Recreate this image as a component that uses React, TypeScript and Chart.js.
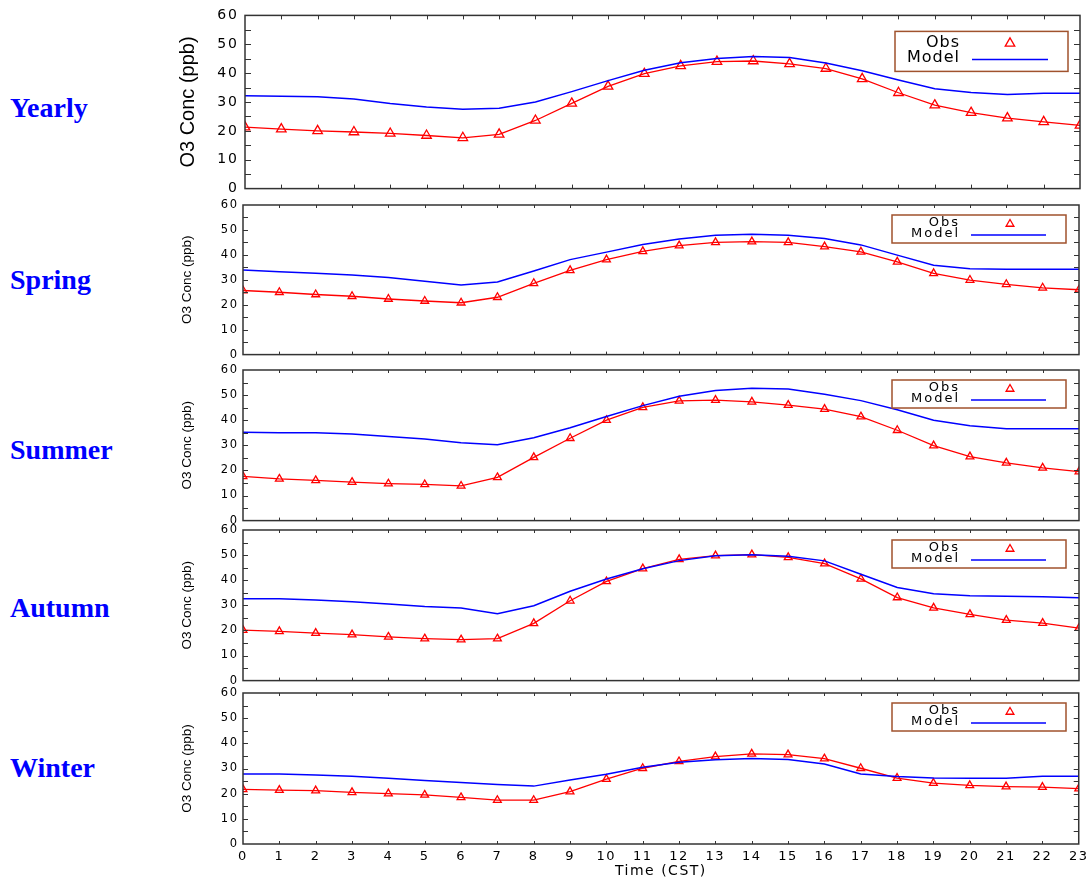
import React, { useEffect, useRef } from 'react';
import { Chart, registerables } from 'chart.js';

Chart.register(...registerables);

// ---------------- data ----------------
const hours = [0, 1, 2, 3, 4, 5, 6, 7, 8, 9, 10, 11, 12, 13, 14, 15, 16, 17, 18, 19, 20, 21, 22, 23];
const panelNames = ['Yearly', 'Spring', 'Summer', 'Autumn', 'Winter'];
const legendLabels = ['Obs', 'Model'];
const yAxisTitle = 'O3 Conc (ppb)';
const xAxisTitle = 'Time (CST)';

const yearlyObs = [21.3, 20.6, 20.0, 19.6, 19.1, 18.4, 17.6, 18.8, 23.6, 29.5, 35.4, 39.8, 42.5, 44.0, 44.2, 43.2, 41.6, 38.0, 33.2, 28.9, 26.3, 24.4, 23.1, 21.9];
const yearlyModel = [32.2, 32.0, 31.8, 31.0, 29.5, 28.3, 27.5, 27.8, 30.0, 33.6, 37.4, 41.0, 43.6, 45.1, 45.8, 45.4, 43.5, 40.8, 37.6, 34.6, 33.3, 32.6, 33.0, 33.0];

const springObs = [25.7, 25.0, 24.1, 23.4, 22.3, 21.5, 20.8, 23.0, 28.6, 33.8, 38.1, 41.4, 43.7, 45.0, 45.3, 45.0, 43.3, 41.2, 37.2, 32.6, 29.9, 28.2, 26.8, 26.0];
const springModel = [33.9, 33.2, 32.6, 31.9, 30.9, 29.4, 27.9, 29.1, 33.5, 38.1, 41.1, 44.2, 46.4, 47.9, 48.3, 47.9, 46.6, 44.0, 39.9, 35.8, 34.4, 34.2, 34.2, 34.2];

const summerObs = [17.6, 16.6, 16.0, 15.3, 14.7, 14.4, 13.8, 17.2, 25.2, 32.8, 40.0, 45.1, 47.7, 48.0, 47.3, 46.0, 44.4, 41.4, 36.0, 29.9, 25.5, 23.0, 21.0, 19.5];
const summerModel = [35.2, 35.0, 35.0, 34.5, 33.5, 32.5, 31.0, 30.2, 33.0, 37.0, 41.5, 45.8, 49.5, 51.8, 52.7, 52.4, 50.3, 47.8, 44.2, 40.0, 37.8, 36.6, 36.6, 36.6];

const autumnObs = [20.1, 19.6, 18.9, 18.3, 17.4, 16.7, 16.3, 16.7, 22.8, 31.8, 39.5, 44.6, 48.3, 49.8, 50.2, 49.1, 46.6, 40.5, 33.1, 29.0, 26.4, 24.1, 22.9, 20.9];
const autumnModel = [32.6, 32.6, 32.1, 31.4, 30.5, 29.5, 28.9, 26.6, 29.8, 35.6, 40.5, 44.6, 47.8, 49.7, 50.1, 49.5, 47.7, 42.4, 37.1, 34.6, 33.8, 33.6, 33.4, 33.0];

const winterObs = [21.7, 21.4, 21.2, 20.5, 20.0, 19.5, 18.5, 17.4, 17.4, 20.8, 25.8, 30.1, 32.8, 34.7, 35.8, 35.5, 33.9, 30.1, 26.2, 24.2, 23.3, 22.8, 22.6, 22.0];
const winterModel = [27.8, 27.8, 27.4, 26.9, 26.1, 25.2, 24.4, 23.6, 23.0, 25.4, 27.7, 30.5, 32.5, 33.5, 34.0, 33.6, 31.8, 27.8, 26.8, 26.2, 26.1, 26.1, 26.9, 26.9];

const obsSeries = [yearlyObs, springObs, summerObs, autumnObs, winterObs];
const modelSeries = [yearlyModel, springModel, summerModel, autumnModel, winterModel];

// ---------------- layout ----------------
type Layout = { top: number; bottom: number; left: number; right: number; big: boolean; last: boolean; nameTop: number };
const layouts: Layout[] = [
  { top: 13, bottom: 193, left: 245, right: 1080, big: true, last: false, nameTop: 94 },
  { top: 205, bottom: 356, left: 243, right: 1079, big: false, last: false, nameTop: 266 },
  { top: 370, bottom: 522, left: 243, right: 1079, big: false, last: false, nameTop: 436 },
  { top: 530, bottom: 682, left: 243, right: 1079, big: false, last: false, nameTop: 594 },
  { top: 693, bottom: 844, left: 243, right: 1079, big: false, last: true, nameTop: 754 },
];

const W = 1092;
const H = 880;
const RED = '#ff0000';
const BLUE = '#0000ff';

function triPath(ctx: CanvasRenderingContext2D, x: number, y: number, r: number) {
  const c = Math.cos(Math.PI / 6) * r;
  ctx.beginPath();
  ctx.moveTo(x, y - r);
  ctx.lineTo(x + c, y + r / 2);
  ctx.lineTo(x - c, y + r / 2);
  ctx.closePath();
}

function makePlugin(L: Layout, ls: number, triR: number) {
  return {
    id: 'frameLegend',
    afterLayout(chart: any) {
      // keep the y-axis title free of the wide digit spacing
      const ys = chart.scales.y;
      if (ys && !ys.__wrapped) {
        const orig = ys.drawTitle.bind(ys);
        ys.drawTitle = function () {
          const c: any = this.ctx;
          const prev = c.letterSpacing;
          c.letterSpacing = '0px';
          orig();
          c.letterSpacing = prev;
        };
        ys.__wrapped = true;
      }
    },
    beforeDraw(chart: any) {
      (chart.ctx as any).letterSpacing = ls + 'px';
    },
    afterDraw(chart: any) {
      const ctx: CanvasRenderingContext2D = chart.ctx;
      const a = chart.chartArea;
      const xs = chart.scales.x;
      const ys = chart.scales.y;
      ctx.save();
      (ctx as any).letterSpacing = '0px';
      // frame
      ctx.strokeStyle = '#333333';
      ctx.lineWidth = 1.5;
      ctx.strokeRect(a.left, a.top, a.right - a.left, a.bottom - a.top);
      // inward ticks
      const yt = L.big ? 6 : 5;
      const xt = L.big ? 4 : 3;
      ctx.lineWidth = 1;
      ctx.beginPath();
      for (let v = 5; v < 60; v += 5) {
        const y = Math.round(ys.getPixelForValue(v)) + 0.5;
        ctx.moveTo(a.left, y);
        ctx.lineTo(a.left + yt, y);
        ctx.moveTo(a.right, y);
        ctx.lineTo(a.right - yt, y);
      }
      for (const h of hours) {
        if (h === 0 || h === 23) continue;
        const x = Math.round(xs.getPixelForValue(h)) + 0.5;
        ctx.moveTo(x, a.bottom);
        ctx.lineTo(x, a.bottom - xt);
        ctx.moveTo(x, a.top);
        ctx.lineTo(x, a.top + xt);
      }
      ctx.stroke();

      // legend box
      const t = a.top;
      const box = L.big
        ? { x0: 895, y0: t + 16, x1: 1068, y1: t + 56, obsY: t + 27, modY: t + 42, triY: t + 28, lineY: t + 44, tx: 959, l0: 972, l1: 1048, font: 16, sp: 1 }
        : { x0: 892, y0: t + 10, x1: 1066, y1: t + 38, obsY: t + 18, modY: t + 29, triY: t + 19, lineY: t + 30, tx: 958, l0: 971, l1: 1046, font: 13, sp: 2 };
      ctx.fillStyle = '#ffffff';
      ctx.fillRect(box.x0, box.y0, box.x1 - box.x0, box.y1 - box.y0);
      ctx.strokeStyle = '#a0522d';
      ctx.lineWidth = 1.5;
      ctx.strokeRect(box.x0, box.y0, box.x1 - box.x0, box.y1 - box.y0);
      ctx.fillStyle = '#000000';
      ctx.font = `${box.font}px "DejaVu Sans"`;
      ctx.textAlign = 'right';
      ctx.textBaseline = 'middle';
      (ctx as any).letterSpacing = box.sp + 'px';
      ctx.fillText(legendLabels[0], box.tx + box.sp, box.obsY);
      ctx.fillText(legendLabels[1], box.tx + box.sp, box.modY);
      (ctx as any).letterSpacing = '0px';
      ctx.strokeStyle = RED;
      ctx.lineWidth = 1.3;
      triPath(ctx, 1010, box.triY, triR);
      ctx.stroke();
      ctx.strokeStyle = BLUE;
      ctx.lineWidth = 1.5;
      ctx.beginPath();
      ctx.moveTo(box.l0, box.lineY);
      ctx.lineTo(box.l1, box.lineY);
      ctx.stroke();
      ctx.restore();
    },
  };
}

function Panel({ idx }: { idx: number }) {
  const ref = useRef<HTMLCanvasElement>(null);
  const L = layouts[idx];
  const padTop = 12;
  const padBottom = L.last ? 0 : 10;
  const axisH = L.last ? H - L.bottom : 0;
  const canvasTop = L.top - padTop;
  const canvasH = L.bottom - L.top + padTop + padBottom + axisH;

  useEffect(() => {
    if (!ref.current) return;
    const ls = L.big ? 2 : 1.5;
    const triR = L.big ? 5.5 : 4.5;
    const titleSize = L.big ? 20 : 13.5;
    const titleLine = titleSize * 1.2;
    const titleCenter = L.big ? 188.5 : 187;
    const chart = new Chart(ref.current, {
      type: 'line',
      data: {
        datasets: [
          {
            label: legendLabels[1],
            data: hours.map((h, i) => ({ x: h, y: modelSeries[idx][i] })),
            borderColor: BLUE,
            borderWidth: 1.5,
            pointRadius: 0,
            tension: 0,
            clip: 0,
          },
          {
            label: legendLabels[0],
            data: hours.map((h, i) => ({ x: h, y: obsSeries[idx][i] })),
            borderColor: RED,
            borderWidth: 1.3,
            pointStyle: 'triangle',
            pointRadius: triR,
            pointBorderColor: RED,
            pointBackgroundColor: 'rgba(0,0,0,0)',
            pointBorderWidth: 1.3,
            tension: 0,
            clip: 0,
          },
        ],
      } as any,
      options: {
        responsive: false,
        animation: false,
        events: [],
        layout: { padding: { top: padTop, bottom: padBottom, left: 0, right: W - L.right } },
        plugins: { legend: { display: false }, tooltip: { enabled: false } },
        scales: {
          x: {
            type: 'linear',
            min: 0,
            max: 23,
            grid: { display: false, drawTicks: false },
            border: { display: false },
            ticks: {
              display: L.last,
              stepSize: 1,
              autoSkip: false,
              maxRotation: 0,
              padding: 5,
              color: '#000000',
              font: { family: 'DejaVu Sans', size: 13 },
            },
            title: {
              display: L.last,
              text: xAxisTitle,
              color: '#000000',
              font: { family: 'DejaVu Sans', size: 14 },
              padding: { top: 0, bottom: 0 },
            },
            afterFit: (s: any) => {
              s.height = axisH;
            },
          },
          y: {
            type: 'linear',
            min: 0,
            max: 60,
            grid: { display: false, drawTicks: false },
            border: { display: false },
            ticks: {
              stepSize: 10,
              padding: L.big ? 6 : 4.5,
              color: '#000000',
              font: { family: 'DejaVu Sans', size: L.big ? 14 : 11.5 },
            },
            title: {
              display: true,
              text: yAxisTitle,
              color: '#000000',
              font: { family: 'Liberation Sans', size: titleSize },
              padding: { top: titleCenter - titleLine / 2, bottom: 0 },
            },
            afterFit: (s: any) => {
              s.width = L.left;
            },
          },
        },
      } as any,
      plugins: [makePlugin(L, ls, triR) as any],
    });
    return () => chart.destroy();
  }, []);

  return (
    <canvas
      ref={ref}
      width={W}
      height={canvasH}
      style={{ position: 'absolute', left: 0, top: canvasTop, width: W, height: canvasH }}
    />
  );
}

export default function App() {
  return (
    <div style={{ position: 'absolute', left: 0, top: 0, width: W, height: H, background: '#ffffff', overflow: 'hidden' }}>
      {layouts.map((L, i) => (
        <div
          key={'name' + i}
          style={{
            position: 'absolute',
            left: 10,
            top: L.nameTop,
            fontFamily: '"Liberation Serif", "Times New Roman", serif',
            fontWeight: 'bold',
            fontSize: 28,
            lineHeight: '28px',
            color: BLUE,
            whiteSpace: 'nowrap',
          }}
        >
          {panelNames[i]}
        </div>
      ))}
      {layouts.map((_, i) => (
        <Panel key={'panel' + i} idx={i} />
      ))}
    </div>
  );
}
